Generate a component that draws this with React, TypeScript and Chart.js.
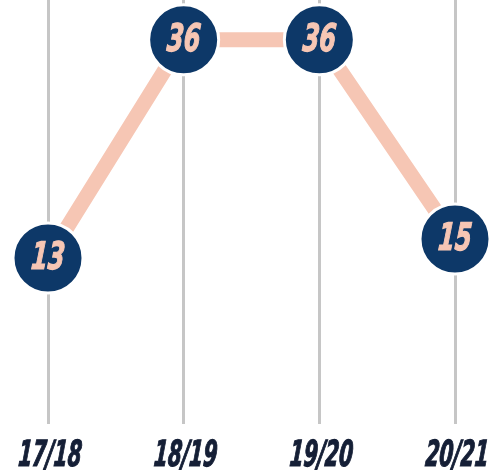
import React, { useEffect, useRef } from "react";
import { Chart, registerables } from "chart.js";

Chart.register(...registerables);

const seasons = ["17/18", "18/19", "19/20", "20/21"];
const values = [13, 36, 36, 15];

const NAVY = "#0d3868";
const SALMON = "#f6c6b4";
const LABEL = "#151f36";
const GRID = "#c6c6c6";
const FONT = "'DejaVu Sans Condensed', 'DejaVu Sans', sans-serif";

const valueLabels = {
  id: "valueLabels",
  afterDatasetsDraw(chart: any) {
    const ctx = chart.ctx;
    const meta = chart.getDatasetMeta(0);
    ctx.save();
    ctx.fillStyle = SALMON;
    ctx.strokeStyle = SALMON;
    ctx.lineWidth = 1.2;
    ctx.font = `italic bold 38px ${FONT}`;
    ctx.textAlign = "center";
    ctx.textBaseline = "middle";
    meta.data.forEach((pt: any, i: number) => {
      ctx.save();
      ctx.translate(pt.x, pt.y + 1);
      ctx.transform(0.7, 0, -0.08, 1, 0, 0);
      ctx.fillText(String(values[i]), 0, 0);
      ctx.strokeText(String(values[i]), 0, 0);
      ctx.restore();
    });
    ctx.restore();
  },
};

const axisLabels = {
  id: "axisLabels",
  afterDraw(chart: any) {
    const ctx = chart.ctx;
    const xs = chart.scales.x;
    ctx.save();
    ctx.fillStyle = LABEL;
    ctx.strokeStyle = LABEL;
    ctx.lineWidth = 1.2;
    ctx.font = `italic bold 36px ${FONT}`;
    ctx.textAlign = "center";
    ctx.textBaseline = "middle";
    seasons.forEach((s, i) => {
      const x = xs.getPixelForTick(i);
      ctx.save();
      ctx.translate(x + 2, 457);
      ctx.transform(0.62, 0, -0.08, 1, 0, 0);
      ctx.fillText(s, 0, 0);
      ctx.strokeText(s, 0, 0);
      ctx.restore();
    });
    ctx.restore();
  },
};

export default function App() {
  const ref = useRef<HTMLCanvasElement>(null);
  useEffect(() => {
    if (!ref.current) return;
    const chart = new Chart(ref.current, {
      type: "line",
      data: {
        labels: seasons,
        datasets: [
          {
            data: values,
            borderColor: SALMON,
            borderWidth: 15,
            pointRadius: 35,
            pointHoverRadius: 35,
            pointBackgroundColor: NAVY,
            pointBorderColor: "#ffffff",
            pointBorderWidth: 3,
            tension: 0,
            clip: false as any,
          },
        ],
      },
      options: {
        responsive: false,
        animation: false,
        layout: { autoPadding: false, padding: { left: 48, right: 37, top: 0, bottom: 0 } },
        plugins: {
          legend: { display: false },
          tooltip: { enabled: false },
        },
        scales: {
          x: {
            type: "category",
            offset: false,
            border: { display: false },
            grid: { color: GRID, lineWidth: 3, drawTicks: false, tickLength: 0 },
            ticks: { display: false },
            afterFit(scale: any) {
              scale.height = 52;
              scale.paddingLeft = 0;
              scale.paddingRight = 0;
            },
          },
          y: {
            display: false,
            min: -4.5,
            max: 40.2,
          },
        },
      },
      plugins: [valueLabels, axisLabels],
    });
    return () => chart.destroy();
  }, []);
  return (
    <div style={{ position: "fixed", left: 0, top: 0, width: 492, height: 476, background: "#ffffff" }}>
      <canvas ref={ref} width={492} height={476} style={{ display: "block" }} />
    </div>
  );
}
